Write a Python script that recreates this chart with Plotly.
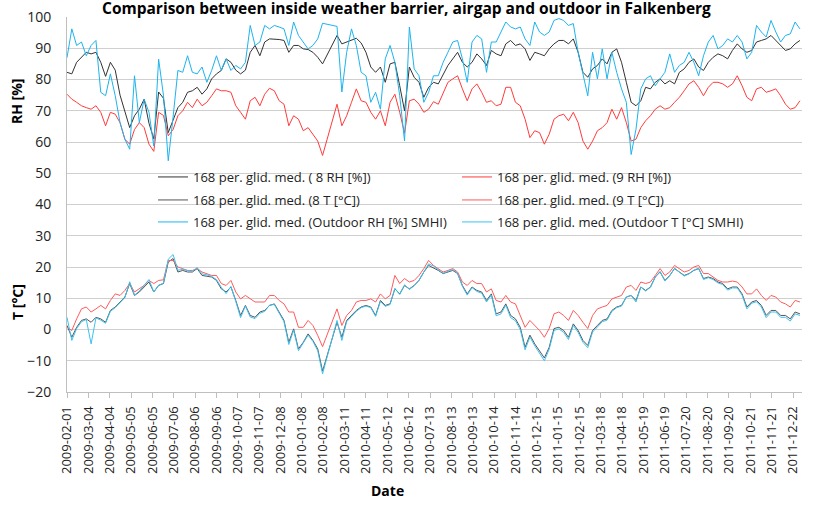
import pandas as pd
import plotly.graph_objects as go

# ---- data (weekly samples, starting 2009-02-01) ----
start_date = "2009-02-01"
step_days = 7

rh_8 = [82.3, 81.8, 85.5, 87, 88.7, 88.2, 88.7, 85.5, 81, 85.5,
        83, 75, 69.5, 64.6, 68.4, 70.5, 73.7, 66, 61, 76,
        74, 63, 67, 71, 72.7, 75.9, 76.4, 77.5, 75.3, 77,
        80.2, 81.8, 82.9, 86.6, 85.5, 83, 81.8, 83, 88.7, 90.9,
        87.6, 92, 93, 93, 92.8, 92.5, 88.7, 90.9, 90.9, 89.8,
        89.6, 88.7, 87.1, 85, None, None, 94.1, 91.4, 92, 92.5,
        93.2, 91.7, 88.7, 84, 82.3, 84, 79.1, 85, 85.5, 78,
        70, 84, 80.7, 79.1, 74.3, 77.5, 79.1, 78.6, 81.8, 84.5,
        86.6, 88.7, 85.5, 84, 85.5, 88.2, 86.6, 84.5, 89.3, 88.2,
        87.6, 91.4, 92.5, 90.9, 91.4, 89.8, 86.1, 88.7, 88.2, 87.6,
        89.8, 91.4, 92.5, 92.5, 91.4, 93, 88.7, 82.3, 80.7, 83.4,
        84.5, 86.6, 85, 88.7, 89.8, 85.5, 79.1, 72.7, 71.6, 73.2,
        77.5, 77, 79.1, 80.2, 78.6, 79.6, 78.6, 82.3, 83.4, 85.5,
        86.6, 84, 82.9, 85.5, 87.1, 88.2, 87.6, 86.6, 89.3, 91.4,
        89.8, 88.7, 89.3, 92, 92.5, 93, 94.1, 92.5, 90.9, 89.3,
        89.8, 91.4, 92.5]

rh_9 = [75.3, 73.7, 72.7, 71.6, 71, 70.5, 71.6, 69.5, 65.2, 69.5,
        68.9, 66.2, 60.9, 59.3, 64, 66.2, 64.6, 59.3, 57, 69.5,
        68.5, 62, 64, 68.4, 70, 72.7, 71, 73.7, 71.6, 72.7,
        74.8, 77, 76.4, 76.4, 75.9, 71.6, 69.5, 67.3, 73.2, 74.3,
        71.6, 75.3, 77.2, 76.4, 73.2, 72.1, 65.2, 68.4, 67.3, 63.6,
        64.6, 62.5, 60.3, 55.7, None, None, 72.1, 65.2, 68.4, 72.7,
        77, 73.2, 72.7, 69.5, 67.3, 70, 65.2, 72.7, 75.3, 69.5,
        62.8, 73.2, 73.7, 72.1, 69.5, 70.5, 72.9, 72.1, 75.9, 79.1,
        80.2, 81.2, 77, 73.2, 77, 78.6, 75.9, 72.7, 73.2, 71.6,
        72.1, 77.5, 77.5, 72.7, 71.6, 67.3, 61.4, 63.6, 63, 59.3,
        62.5, 67.3, 68.4, 68.9, 66.8, 69.5, 66.2, 60.3, 57.7, 60.3,
        63.6, 64.6, 66.2, 70.5, 67.3, 71, 66.2, 60.3, 60.9, 64.6,
        66.8, 68.4, 70.5, 71.6, 70.5, 71, 72.7, 74.3, 76.4, 78.6,
        79.6, 77.5, 74.8, 77.5, 79.1, 79.1, 78.6, 77.5, 78.6, 81.2,
        78, 74.3, 73.2, 77, 77.5, 75.9, 76.4, 77, 74.8, 72.1,
        70.5, 71, 73.2]

t_8 = [1.3, -2.5, 0.7, 2.9, 3.4, 2.3, 3.9, 3.4, 2.3, 6.1,
       7.2, 8.8, 10.4, 14.7, 10.9, 12, 13.6, 15.2, 12, 14.1,
       14.7, 21.6, 22.7, 18.4, 18.9, 18.4, 18.4, 19.5, 17.3, 17,
       16.8, 15.7, 13, 12, 13.6, 9.3, 4.5, 7.7, 4.5, 3.9,
       5.6, 6.1, 7.7, 8.2, 5.6, 2.9, -4.1, 0.2, -6.2, -4.1,
       -1.4, -3.5, -6.2, -13.3, None, None, 2.3, -2.5, 2.9, 4.5,
       6.1, 7.2, 7.7, 7.2, 4.5, 9.3, 7.7, 8.2, 13, 11.4,
       14.1, 13, 14.1, 15.7, 18.4, 20.5, 19.8, 18.9, 17.9, 18.4,
       18.9, 17.9, 14.1, 11.4, 13.6, 12.5, 12, 9.3, 11.4, 5,
       5.6, 8.2, 4.5, 3.4, 0.7, -5.7, -1.8, -4.6, -6.7, -9.1,
       -5.7, 0.3, 0.7, -0.3, -2.5, 1.8, -0.3, -3.5, -5.1, -0.3,
       1.3, 2.9, 3.4, 6.1, 7.2, 7.7, 10.4, 10.9, 9.3, 13.6,
       12.5, 13.6, 16.8, 18.4, 15.7, 17.3, 19.5, 18.4, 17.3, 17.9,
       18.9, 19.5, 16.3, 16.8, 16.3, 15.2, 14.7, 13, 13.6, 13.6,
       11.4, 7.2, 8.8, 9.3, 7.7, 4.5, 6.1, 6.1, 4.5, 4.5,
       3.4, 5.6, 5.0]

t_9 = [0.7, -0.3, 3.4, 6.6, 7.2, 5.6, 6.6, 7.7, 6.6, 9.3,
       11.4, 10.9, 12.5, 14.7, 12, 13, 14.1, 15.7, 14.7, 15.7,
       15.9, 22.1, 22.1, 20, 19.5, 18.9, 18.9, 19.5, 18.4, 17.9,
       17.3, 17.3, 14.7, 14.1, 15.7, 12, 9.8, 10.9, 9.8, 8.8,
       8.8, 8.8, 10.9, 10.9, 9.3, 8.2, 5.6, 5.6, 0.7, 0.7,
       2.9, 1.3, -1.9, -5.5, None, None, 6.6, 1.3, 4.5, 6.1,
       8.8, 9.3, 9.3, 9.8, 8.8, 11.4, 9.8, 10.9, 17.3, 14.7,
       16.3, 15.2, 15.7, 17.3, 19.5, 22.1, 20.5, 19.5, 18.4, 18.9,
       19.5, 18.4, 15.2, 14.1, 15.7, 14.7, 14.7, 12, 13, 9.3,
       8.8, 10.9, 8.8, 8.2, 4.5, 0.7, 2.9, 1.3, -0.3, -2.5,
       0.3, 5, 5.6, 4.5, 2.9, 6.1, 4.5, 2.3, 0.3, 4.5,
       6.6, 7.2, 7.7, 9.8, 10.4, 10.9, 13.6, 14.1, 12.5, 15.2,
       14.7, 15.2, 17.3, 19.5, 17.3, 18.4, 20.5, 19.5, 18.4, 18.9,
       20, 20.5, 17.9, 17.9, 16.8, 15.7, 15.2, 15.2, 15.5, 15.2,
       13.6, 11.4, 11.4, 13, 10.9, 9.3, 10.9, 10.4, 8.8, 8.2,
       7.2, 9.3, 8.8]

rh_out = [87, 96.2, 90.9, 92, 87.6, 90.9, 92.5, 75.9, 74.8, 81.8,
          74.8, 66.2, 60.9, 57.7, 81.2, 66.2, 73.7, 69.5, 58.7, 86.5,
          75, 54, 68, 82.9, 82.3, 87.6, 82.3, 81.8, 84, 79.1,
          82.9, 87.6, 82.9, 86.6, 82.9, 84.5, 83.4, 85.5, 97.3, 90.9,
          92, 97.3, 96.2, 97.3, 96.8, 96.2, 90.9, 98.4, 94.1, 92,
          89.8, 90.9, 93, 98, None, None, 97, 76, 88.7, 96.2,
          90.9, 82.3, 81.2, 72.7, 75.9, 70.5, 86.6, 90.9, 85.5, 74.8,
          60.3, 96.8, 83.4, 81.2, 72.7, 75.9, 81.2, 81.2, 85.5, 88.7,
          92, 92.5, 86.6, 79.1, 92, 94.1, 93, 82.3, 92, 92,
          95.2, 98.4, 96.8, 96.2, 96.8, 93, 90.9, 98.4, 95.2, 94.1,
          95.2, 98.9, 99.5, 98.9, 97.3, 97.9, 88.7, 81.2, 74.8, 88.7,
          80.2, 89.8, 80.2, 88.7, 82.3, 77, 72.7, 56, 64.1, 77,
          80.2, 81.2, 78, 80.2, 82.3, 88.2, 82.3, 84.5, 85.5, 88.7,
          85.5, 81.2, 87.6, 92, 94.1, 89.8, 90.9, 93, 92, 94.1,
          92, 86.6, 88.7, 97.3, 95.2, 93.6, 98.9, 95.2, 92, 94.1,
          94.6, 98.4, 96.2]

t_out = [3.9, -3.5, 0.3, 2.5, 3.2, -4.6, 3.7, 3.0, 2.0, 5.8,
         7.0, 8.6, 10.2, 15.3, 11, 12.3, 14, 16, 12, 14.2,
         14.8, 22.5, 24, 19, 19.2, 18.8, 18.6, 19.8, 17.8, 17.5,
         17, 16, 13.5, 11.5, 13.8, 9, 3.8, 7.5, 4, 3.5,
         5.2, 5.8, 7.8, 8, 5.2, 2.5, -4.8, -0.2, -6.8, -4.5,
         -1.8, -3.8, -6.8, -14.2, None, None, 2.9, -3.5, 2.5, 4.2,
         5.8, 7, 7.5, 7, 4.2, 9.0, 7.4, 8.0, 13.2, 11.2,
         14.3, 12.8, 14, 15.8, 18.6, 21, 20.3, 19.0, 18.0, 18.6,
         19.2, 18.0, 13.8, 11.0, 13.4, 12.2, 11.6, 8.8, 11.0, 4.4,
         5.0, 7.8, 3.8, 2.8, 0.0, -6.5, -2.4, -5.2, -7.4, -10.0,
         -6.3, -0.3, 0.2, -0.9, -3.2, 1.3, -0.9, -4.1, -5.8, -0.8,
         0.8, 2.5, 3.0, 5.8, 7.0, 7.5, 10.4, 10.9, 8.8, 13.6,
         12.3, 13.5, 16.8, 18.6, 15.5, 17.2, 19.6, 18.4, 17.1, 17.8,
         19.0, 19.6, 16.0, 16.6, 16.0, 14.9, 14.4, 12.6, 13.3, 13.3,
         11.0, 6.6, 8.4, 8.9, 7.2, 3.8, 5.6, 5.6, 3.9, 3.9,
         2.7, 5.0, 4.5]

series_names = [
    "168 per. glid. med. ( 8 RH [%])",
    "168 per. glid. med. (9 RH [%])",
    "168 per. glid. med. (8 T [°C])",
    "168 per. glid. med. (9 T [°C])",
    "168 per. glid. med. (Outdoor RH [%] SMHI)",
    "168 per. glid. med. (Outdoor T [°C] SMHI)",
]
series_values = [rh_8, rh_9, t_8, t_9, rh_out, t_out]
series_colors = ["#333333", "#ff3b3b", "#555555", "#ff5a5a", "#1db4ee", "#3cc2f2"]

tick_start = "2009-02-01"
tick_end = "2011-12-22"
tick_step_days = 31
axis_end = "2012-01-04"

title_text = "Comparison between inside weather barrier, airgap and outdoor in Falkenberg"

# ---- figure ----
dates = pd.date_range(start_date, periods=len(rh_8), freq=f"{step_days}D")
tick_dates = pd.date_range(tick_start, tick_end, freq=f"{tick_step_days}D")

FONT = "Open Sans"
fig = go.Figure()
legend_ids = ["legend", "legend2", "legend3", "legend4", "legend5", "legend6"]
for name, vals, col, lg in zip(series_names, series_values, series_colors, legend_ids):
    fig.add_trace(go.Scatter(
        x=dates, y=vals, mode="lines", name=name, connectgaps=True,
        line=dict(color=col, width=1), legend=lg,
    ))

W, H = 814, 512
ml, mr, mt, mb = 67, 12, 17, 120
pw, ph = W - ml - mr, H - mt - mb

def px_x(px):
    return (px - ml) / pw

def px_y(py):
    return 1 - (py - mt) / ph

legend_pos = [(153, 177), (457, 177), (153, 200), (457, 200), (153, 222), (457, 222)]
layout_legends = {}
for lg, (lx, ly) in zip(legend_ids, legend_pos):
    layout_legends[lg] = dict(
        x=px_x(lx), y=px_y(ly), xanchor="left", yanchor="middle",
        bgcolor="rgba(0,0,0,0)", borderwidth=0,
        font=dict(family=FONT, size=13, color="#222222"),
    )

fig.update_layout(
    width=W, height=H,
    margin=dict(l=ml, r=mr, t=mt, b=mb, pad=0, autoexpand=False),
    paper_bgcolor="white", plot_bgcolor="white",
    showlegend=True,
    font=dict(family=FONT, size=13, color="#222222"),
    **layout_legends,
)

fig.update_xaxes(
    type="date", automargin=False,
    range=[pd.Timestamp(start_date), pd.Timestamp(axis_end)],
    tickvals=tick_dates,
    ticktext=[d.strftime("%Y-%m-%d") for d in tick_dates],
    tickangle=-90,
    ticks="outside", ticklen=5, tickcolor="#bfbfbf", tickwidth=1,
    showline=True, linecolor="#bfbfbf", linewidth=1,
    showgrid=False, zeroline=False,
    tickfont=dict(family=FONT, size=13, color="#222222"),
    ticklabelstandoff=3,
)
fig.update_yaxes(
    range=[-20, 100], dtick=10, tick0=0, automargin=False,
    showgrid=True, gridcolor="#cfcfcf", gridwidth=1,
    showline=True, linecolor="#bfbfbf", linewidth=1,
    zeroline=False, ticks="",
    tickfont=dict(family=FONT, size=14, color="#222222"),
    ticklabelstandoff=12,
)

annotations = [
    dict(text=f"<b>{title_text}</b>", x=px_x(406), y=px_y(8), xref="paper", yref="paper",
         xanchor="center", yanchor="middle", showarrow=False,
         font=dict(family=FONT, size=15.5, color="#000000")),
    dict(text="<b>RH [%]</b>", x=px_x(17), y=px_y(101), xref="paper", yref="paper",
         textangle=-90, xanchor="center", yanchor="middle", showarrow=False,
         font=dict(family=FONT, size=14, color="#000000")),
    dict(text="<b>T [°C]</b>", x=px_x(17), y=px_y(302), xref="paper", yref="paper",
         textangle=-90, xanchor="center", yanchor="middle", showarrow=False,
         font=dict(family=FONT, size=14, color="#000000")),
    dict(text="<b>Date</b>", x=px_x(387), y=px_y(490), xref="paper", yref="paper",
         xanchor="center", yanchor="middle", showarrow=False,
         font=dict(family=FONT, size=14, color="#000000")),
]
fig.update_layout(annotations=annotations)

fig.write_html("out.html", config={"displayModeBar": False},
               post_script="document.body.style.margin='0px';")
